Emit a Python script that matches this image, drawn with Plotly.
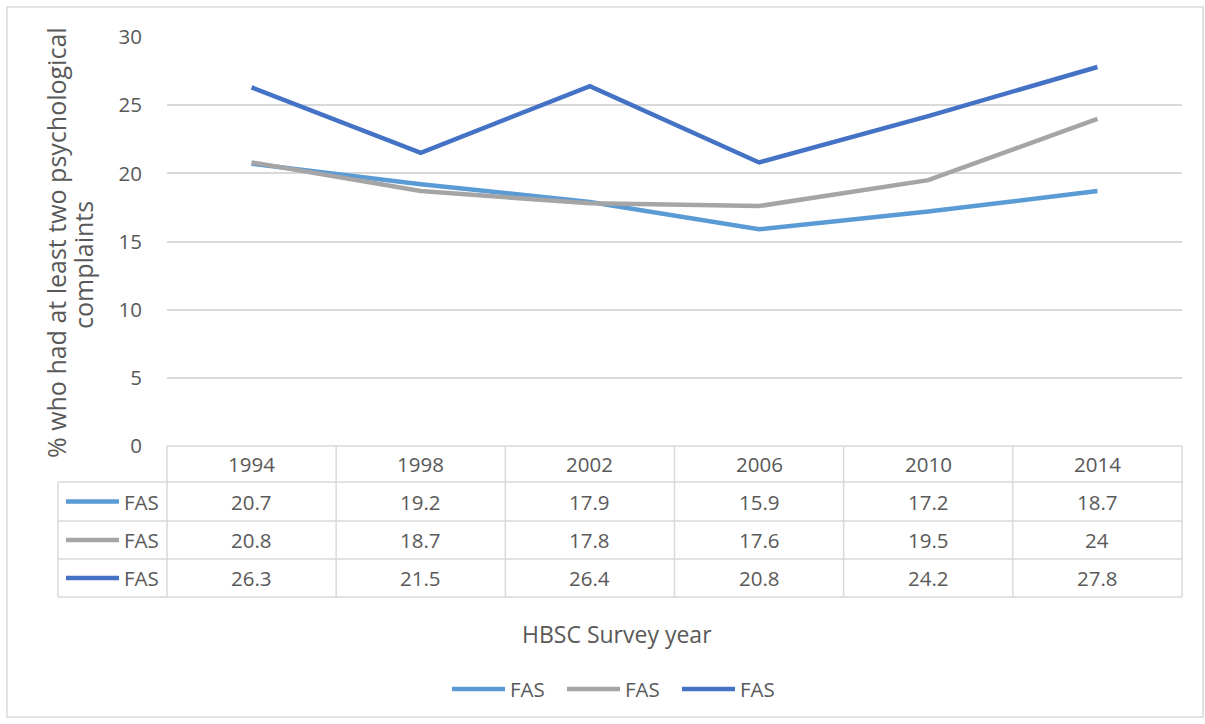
import plotly.graph_objects as go

# Survey years and the share (%) reporting at least two psychological complaints
years = ["1994", "1998", "2002", "2006", "2010", "2014"]
series_names = ["FAS", "FAS", "FAS"]
fas_low = [20.7, 19.2, 17.9, 15.9, 17.2, 18.7]
fas_mid = [20.8, 18.7, 17.8, 17.6, 19.5, 24]
fas_high = [26.3, 21.5, 26.4, 20.8, 24.2, 27.8]
y_ticks = [0, 5, 10, 15, 20, 25, 30]

series_values = [fas_low, fas_mid, fas_high]
colors = ["#5B9BD5", "#A5A5A5", "#4472C4"]

W, H = 1205, 724
L, R, T, B = 167, 1182, 37, 446          # plot area in pixels
PW, PH = R - L, B - T

TEXT = "#595959"
GRID = "#D9D9D9"
FONT = "Open Sans"
FS = 20.5


def px(x):
    return (x - L) / PW


def py(y):
    return (B - y) / PH


fig = go.Figure()
xs = list(range(len(years)))
for name, vals, col in zip(series_names, series_values, colors):
    fig.add_trace(go.Scatter(
        x=xs, y=vals, name=name, mode="lines",
        line=dict(color=col, width=4.5),
        showlegend=False, hoverinfo="y",
    ))

shapes = []
annotations = []

# Data table underneath the plot
col_w = PW / len(years)
header_bottom = 482
row_edges = [482, 521, 559, 597]
table_left = 58

line_style = dict(color=GRID, width=1.5)
# horizontal rules
shapes.append(dict(type="line", xref="paper", yref="paper",
                   x0=px(L), x1=px(R), y0=py(B), y1=py(B), line=line_style))
for yy in row_edges:
    shapes.append(dict(type="line", xref="paper", yref="paper",
                       x0=px(table_left), x1=px(R), y0=py(yy), y1=py(yy), line=line_style))
# vertical rules
for i in range(len(years) + 1):
    xx = L + i * col_w
    shapes.append(dict(type="line", xref="paper", yref="paper",
                       x0=px(xx), x1=px(xx), y0=py(B), y1=py(row_edges[-1]), line=line_style))
shapes.append(dict(type="line", xref="paper", yref="paper",
                   x0=px(table_left), x1=px(table_left),
                   y0=py(row_edges[0]), y1=py(row_edges[-1]), line=line_style))

cell_font = dict(family=FONT, size=FS, color=TEXT)
for i, yr in enumerate(years):
    annotations.append(dict(x=px(L + (i + 0.5) * col_w), y=py((B + header_bottom) / 2),
                            xref="paper", yref="paper", text=yr, showarrow=False,
                            font=cell_font, xanchor="center", yanchor="middle"))
for r, (name, vals, col) in enumerate(zip(series_names, series_values, colors)):
    yc = (row_edges[r] + row_edges[r + 1]) / 2
    shapes.append(dict(type="line", xref="paper", yref="paper",
                       x0=px(66), x1=px(119), y0=py(yc), y1=py(yc),
                       line=dict(color=col, width=4.5)))
    annotations.append(dict(x=px(122), y=py(yc), xref="paper", yref="paper",
                            text=name, showarrow=False, font=cell_font,
                            xanchor="left", yanchor="middle"))
    for i, v in enumerate(vals):
        annotations.append(dict(x=px(L + (i + 0.5) * col_w), y=py(yc),
                                xref="paper", yref="paper", text=f"{v:g}",
                                showarrow=False, font=cell_font,
                                xanchor="center", yanchor="middle"))

# Axis titles
annotations.append(dict(x=px(617), y=py(634), xref="paper", yref="paper",
                        text="HBSC Survey year", showarrow=False,
                        font=dict(family=FONT, size=23, color=TEXT),
                        xanchor="center", yanchor="middle"))
ytitle_font = dict(family=FONT, size=25, color=TEXT)
annotations.append(dict(x=px(56), y=py(243), xref="paper", yref="paper",
                        text="% who had at least two psychological", showarrow=False,
                        font=ytitle_font, textangle=-90,
                        xanchor="center", yanchor="middle"))
annotations.append(dict(x=px(83), y=py(265), xref="paper", yref="paper",
                        text="complaints", showarrow=False,
                        font=ytitle_font, textangle=-90,
                        xanchor="center", yanchor="middle"))

# Legend row
legend_y = 689
leg_x = [450, 565, 680]
for x0, name, col in zip(leg_x, series_names, colors):
    shapes.append(dict(type="line", xref="paper", yref="paper",
                       x0=px(x0 + 2), x1=px(x0 + 55), y0=py(legend_y), y1=py(legend_y),
                       line=dict(color=col, width=4.5)))
    annotations.append(dict(x=px(x0 + 58), y=py(legend_y), xref="paper", yref="paper",
                            text=name, showarrow=False, font=cell_font,
                            xanchor="left", yanchor="middle"))

# Chart border
shapes.append(dict(type="rect", xref="paper", yref="paper",
                   x0=px(7), x1=px(1203), y0=py(7), y1=py(717),
                   line=dict(color=GRID, width=1.5), layer="below"))

fig.update_layout(
    width=W, height=H,
    margin=dict(l=L, r=W - R, t=T, b=H - B),
    paper_bgcolor="white", plot_bgcolor="white",
    showlegend=False,
    shapes=shapes, annotations=annotations,
    xaxis=dict(range=[-0.5, len(years) - 0.5], showticklabels=False,
               showgrid=False, zeroline=False, showline=False, fixedrange=True),
    yaxis=dict(range=[0, 30], tickvals=y_ticks, showgrid=True, gridcolor=GRID,
               gridwidth=1.5, zeroline=False, showline=False,
               tickfont=dict(family=FONT, size=FS, color=TEXT),
               ticks="outside", ticklen=20, tickcolor="rgba(0,0,0,0)",
               fixedrange=True),
)

fig.write_html("out.html")
